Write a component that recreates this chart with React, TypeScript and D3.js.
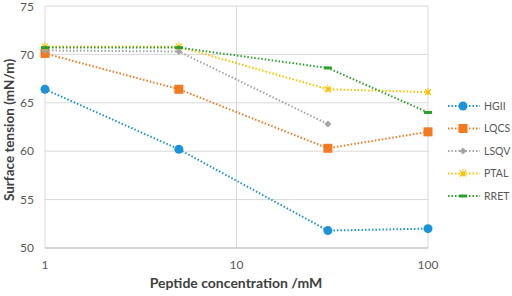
import React from "react";
import * as d3 from "d3";

const concentrations = [1, 5, 30, 100];
const seriesNames = ["HGII", "LQCS", "LSQV", "PTAL", "RRET"];
const hgii = [66.4, 60.2, 51.8, 52.0];
const lqcs = [70.1, 66.4, 60.3, 62.0];
const lsqv = [70.4, 70.3, 62.8];
const ptal = [70.8, 70.8, 66.4, 66.1];
const rret = [70.7, 70.7, 68.6, 64.0];
const colors = ["#1c93d9", "#f47920", "#a5a5a5", "#ffc000", "#2ca02c"];
const yTicks = [50, 55, 60, 65, 70, 75];
const xTicks = [1, 10, 100];

const allValues = [hgii, lqcs, lsqv, ptal, rret];

function Marker({ i, x, y }: { i: number; x: number; y: number }) {
  const c = colors[i];
  if (i === 0) return <circle cx={x} cy={y} r={4.5} fill={c} />;
  if (i === 1) return <rect x={x - 4.5} y={y - 4.5} width={9} height={9} fill={c} />;
  if (i === 2)
    return <path d={`M${x},${y - 3.5}L${x + 3.5},${y}L${x},${y + 3.5}L${x - 3.5},${y}Z`} fill={c} />;
  if (i === 3)
    return (
      <g stroke={c} strokeWidth={1.2} fill="none">
        <path d={`M${x - 3},${y - 3}L${x + 3},${y + 3}M${x - 3},${y + 3}L${x + 3},${y - 3}`} />
        <path d={`M${x},${y - 4.5}L${x},${y + 4.5}`} strokeDasharray="1.5,1.5" />
        <rect x={x - 2} y={y - 2} width={4} height={4} fill={c} stroke="none" />
      </g>
    );
  return <rect x={x - 4} y={y - 1.5} width={8} height={3} fill={c} />;
}

export default function App() {
  const W = 512, H = 296;
  const left = 45, right = 428, top = 6, bottom = 248;
  const x = d3.scaleLog().domain([1, 100]).range([left, right]);
  const y = d3.scaleLinear().domain([50, 75]).range([bottom, top]);
  const line = d3
    .line<number>()
    .x((_, j) => x(concentrations[j]))
    .y((d) => y(d));
  const font = "Lato, 'Open Sans', sans-serif";
  return (
    <svg width={W} height={H} style={{ position: "absolute", left: 0, top: 0 }} fontFamily={font}>
      <rect width={W} height={H} fill="#fff" />
      {yTicks.map((t) => (
        <g key={t}>
          <line x1={left} x2={right} y1={y(t)} y2={y(t)} stroke="#d9d9d9" strokeWidth={1} />
          <text x={34} y={Math.max(y(t), 7)} dy="0.35em" textAnchor="end" fontSize={12} fill="#595959">
            {t}
          </text>
        </g>
      ))}
      {xTicks.map((t) => (
        <g key={t}>
          <line x1={x(t)} x2={x(t)} y1={top} y2={bottom} stroke="#d9d9d9" strokeWidth={1} />
          <text x={x(t)} y={265} dy="0.35em" textAnchor="middle" fontSize={12} fill="#595959">
            {t}
          </text>
        </g>
      ))}
      <line x1={left} x2={right} y1={bottom} y2={bottom} stroke="#bfbfbf" />
      {allValues.map((vals, i) => (
        <g key={i}>
          <path d={line(vals) || ""} fill="none" stroke={colors[i]} strokeWidth={2} strokeDasharray="1.5,2" />
          {vals.map((v, j) => (
            <Marker key={j} i={i} x={x(concentrations[j])} y={y(v)} />
          ))}
        </g>
      ))}
      <text x={236} y={283} dy="0.35em" textAnchor="middle" fontSize={14} fontWeight="bold" fill="#404040">
        Peptide concentration /mM
      </text>
      <text
        transform={`translate(9,${(top + bottom) / 2 + 3}) rotate(-90)`}
        dy="0.35em"
        textAnchor="middle"
        fontSize={13.5}
        fontWeight="bold"
        fill="#404040"
      >
        Surface tension (mN/m)
      </text>
      {seriesNames.map((n, i) => {
        const ly = 106 + i * 22.5;
        return (
          <g key={n}>
            <line x1={448} x2={480} y1={ly} y2={ly} stroke={colors[i]} strokeWidth={2} strokeDasharray="1.5,2" />
            <Marker i={i} x={463} y={ly} />
            <text x={484} y={ly} dy="0.35em" fontSize={10.5} fill="#595959">
              {n}
            </text>
          </g>
        );
      })}
    </svg>
  );
}
